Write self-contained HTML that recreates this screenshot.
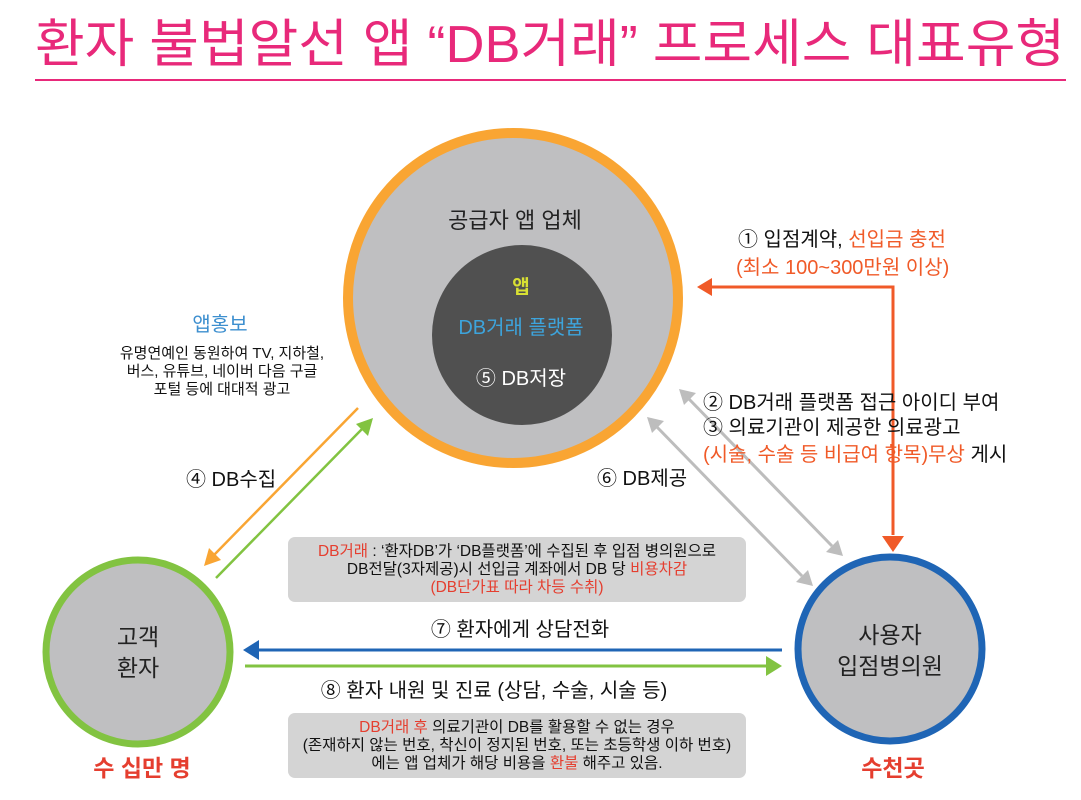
<!DOCTYPE html>
<html><head><meta charset="utf-8"><style>
body{margin:0;background:#fff;width:1081px;height:800px;overflow:hidden}
svg{display:block}
text{font-family:"Liberation Sans","Noto Sans CJK KR",sans-serif}
</style></head><body>
<svg width="1081" height="800" viewBox="0 0 1081 800">
<text x="550" y="62" text-anchor="middle" font-size="52" fill="#e8297a" font-family="'Noto Sans CJK KR',sans-serif" textLength="1030" lengthAdjust="spacingAndGlyphs">환자 불법알선 앱 “DB거래” 프로세스 대표유형</text>
<line x1="35" y1="80" x2="1066" y2="80" stroke="#e8297a" stroke-width="2"/>

<circle cx="513" cy="298" r="165" fill="#bfbfc1" stroke="#f9a533" stroke-width="10"/>
<circle cx="522" cy="335" r="90" fill="#505050"/>
<text x="515" y="228" text-anchor="middle" font-size="22" fill="#222">공급자 앱 업체</text>
<text x="521" y="293" text-anchor="middle" font-size="19" fill="#d8e033" font-weight="bold">앱</text>
<text x="521" y="334" text-anchor="middle" font-size="20" fill="#3da4dc">DB거래 플랫폼</text>
<text x="521" y="385" text-anchor="middle" font-size="20" fill="#fff">⑤ DB저장</text>

<circle cx="138" cy="652" r="92" fill="#bfbfc1" stroke="#82c341" stroke-width="7"/>
<text x="138" y="645" text-anchor="middle" font-size="23" fill="#222">고객</text>
<text x="138" y="676" text-anchor="middle" font-size="23" fill="#222">환자</text>
<text x="142" y="776" text-anchor="middle" font-size="23" fill="#e53e2f" font-weight="bold">수 십만 명</text>

<circle cx="890" cy="649" r="92" fill="#bfbfc1" stroke="#1f65b5" stroke-width="7"/>
<text x="890" y="643" text-anchor="middle" font-size="23" fill="#222">사용자</text>
<text x="890" y="674" text-anchor="middle" font-size="23" fill="#222">입점병의원</text>
<text x="893" y="776" text-anchor="middle" font-size="23" fill="#e53e2f" font-weight="bold">수천곳</text>

<polyline points="893,535 893,287 712,287" fill="none" stroke="#f05a28" stroke-width="3"/>
<path d="M697,287 L712,278 L712,296z" fill="#f05a28"/>
<path d="M893,552 L882,536 L904,536z" fill="#f05a28"/>
<text x="738" y="246" font-size="20" fill="#111">① 입점계약, <tspan fill="#f05a28">선입금 충전</tspan></text>
<text x="736" y="274" font-size="20" fill="#f05a28">(최소 100~300만원 이상)</text>

<g stroke="#bdbdbd" stroke-width="3">
<line x1="688" y1="398" x2="832" y2="546"/>
<line x1="656" y1="426" x2="802" y2="576"/>
</g>
<g fill="#bdbdbd">
<path d="M679,389 L696,393 L684,405z"/>
<path d="M843,556 L826,552 L838,540z"/>
<path d="M647,417 L664,421 L652,433z"/>
<path d="M813,586 L796,582 L808,570z"/>
</g>
<text x="703" y="409" font-size="20" fill="#111">② DB거래 플랫폼 접근 아이디 부여</text>
<text x="703" y="434" font-size="20" fill="#111">③ 의료기관이 제공한 의료광고</text>
<text x="703" y="461" font-size="20" fill="#f05a28">(시술, 수술 등 비급여 항목)무상 <tspan fill="#111">게시</tspan></text>
<text x="597" y="485" font-size="20" fill="#111">⑥ DB제공</text>

<line x1="358" y1="408" x2="214" y2="555" stroke="#f9a533" stroke-width="2.5"/>
<path d="M204,566 L209,548 L221,560z" fill="#f9a533"/>
<line x1="216" y1="578" x2="363" y2="428" stroke="#82c341" stroke-width="2.5"/>
<path d="M373,418 L368,436 L356,424z" fill="#82c341"/>
<text x="186" y="486" font-size="20" fill="#111">④ DB수집</text>

<text x="220" y="331" text-anchor="middle" font-size="20" fill="#3d8fcf">앱홍보</text>
<text x="222" y="358" text-anchor="middle" font-size="15" fill="#111">유명연예인 동원하여 TV, 지하철,</text>
<text x="222" y="376" text-anchor="middle" font-size="15" fill="#111">버스, 유튜브, 네이버 다음 구글</text>
<text x="222" y="394" text-anchor="middle" font-size="15" fill="#111">포털 등에 대대적 광고</text>

<rect x="288" y="537" width="458" height="65" rx="7" fill="#d4d4d4"/>
<text x="517" y="556" text-anchor="middle" font-size="15.5" fill="#111"><tspan fill="#e53e2f">DB거래</tspan> : ‘환자DB’가 ‘DB플랫폼’에 수집된 후 입점 병의원으로</text>
<text x="517" y="574" text-anchor="middle" font-size="15.5" fill="#111">DB전달(3자제공)시 선입금 계좌에서 DB 당 <tspan fill="#e53e2f">비용차감</tspan></text>
<text x="517" y="592" text-anchor="middle" font-size="15.5" fill="#e53e2f">(DB단가표 따라 차등 수취)</text>

<rect x="288" y="713" width="458" height="65" rx="7" fill="#d4d4d4"/>
<text x="517" y="732" text-anchor="middle" font-size="15.5" fill="#111"><tspan fill="#e53e2f">DB거래 후</tspan> 의료기관이 DB를 활용할 수 없는 경우</text>
<text x="517" y="750" text-anchor="middle" font-size="15.5" fill="#111">(존재하지 않는 번호, 착신이 정지된 번호, 또는 초등학생 이하 번호)</text>
<text x="517" y="768" text-anchor="middle" font-size="15.5" fill="#111">에는 앱 업체가 해당 비용을 <tspan fill="#e53e2f">환불</tspan> 해주고 있음.</text>

<line x1="258" y1="650" x2="782" y2="650" stroke="#1f65b5" stroke-width="3"/>
<path d="M243,650 L259,640 L259,660z" fill="#1f65b5"/>
<line x1="245" y1="666" x2="768" y2="666" stroke="#82c341" stroke-width="3"/>
<path d="M782,666 L766,656 L766,676z" fill="#82c341"/>
<text x="520" y="636" text-anchor="middle" font-size="20" fill="#111">⑦ 환자에게 상담전화</text>
<text x="494" y="697" text-anchor="middle" font-size="20" fill="#111">⑧ 환자 내원 및 진료 (상담, 수술, 시술 등)</text>
</svg>
</body></html>
